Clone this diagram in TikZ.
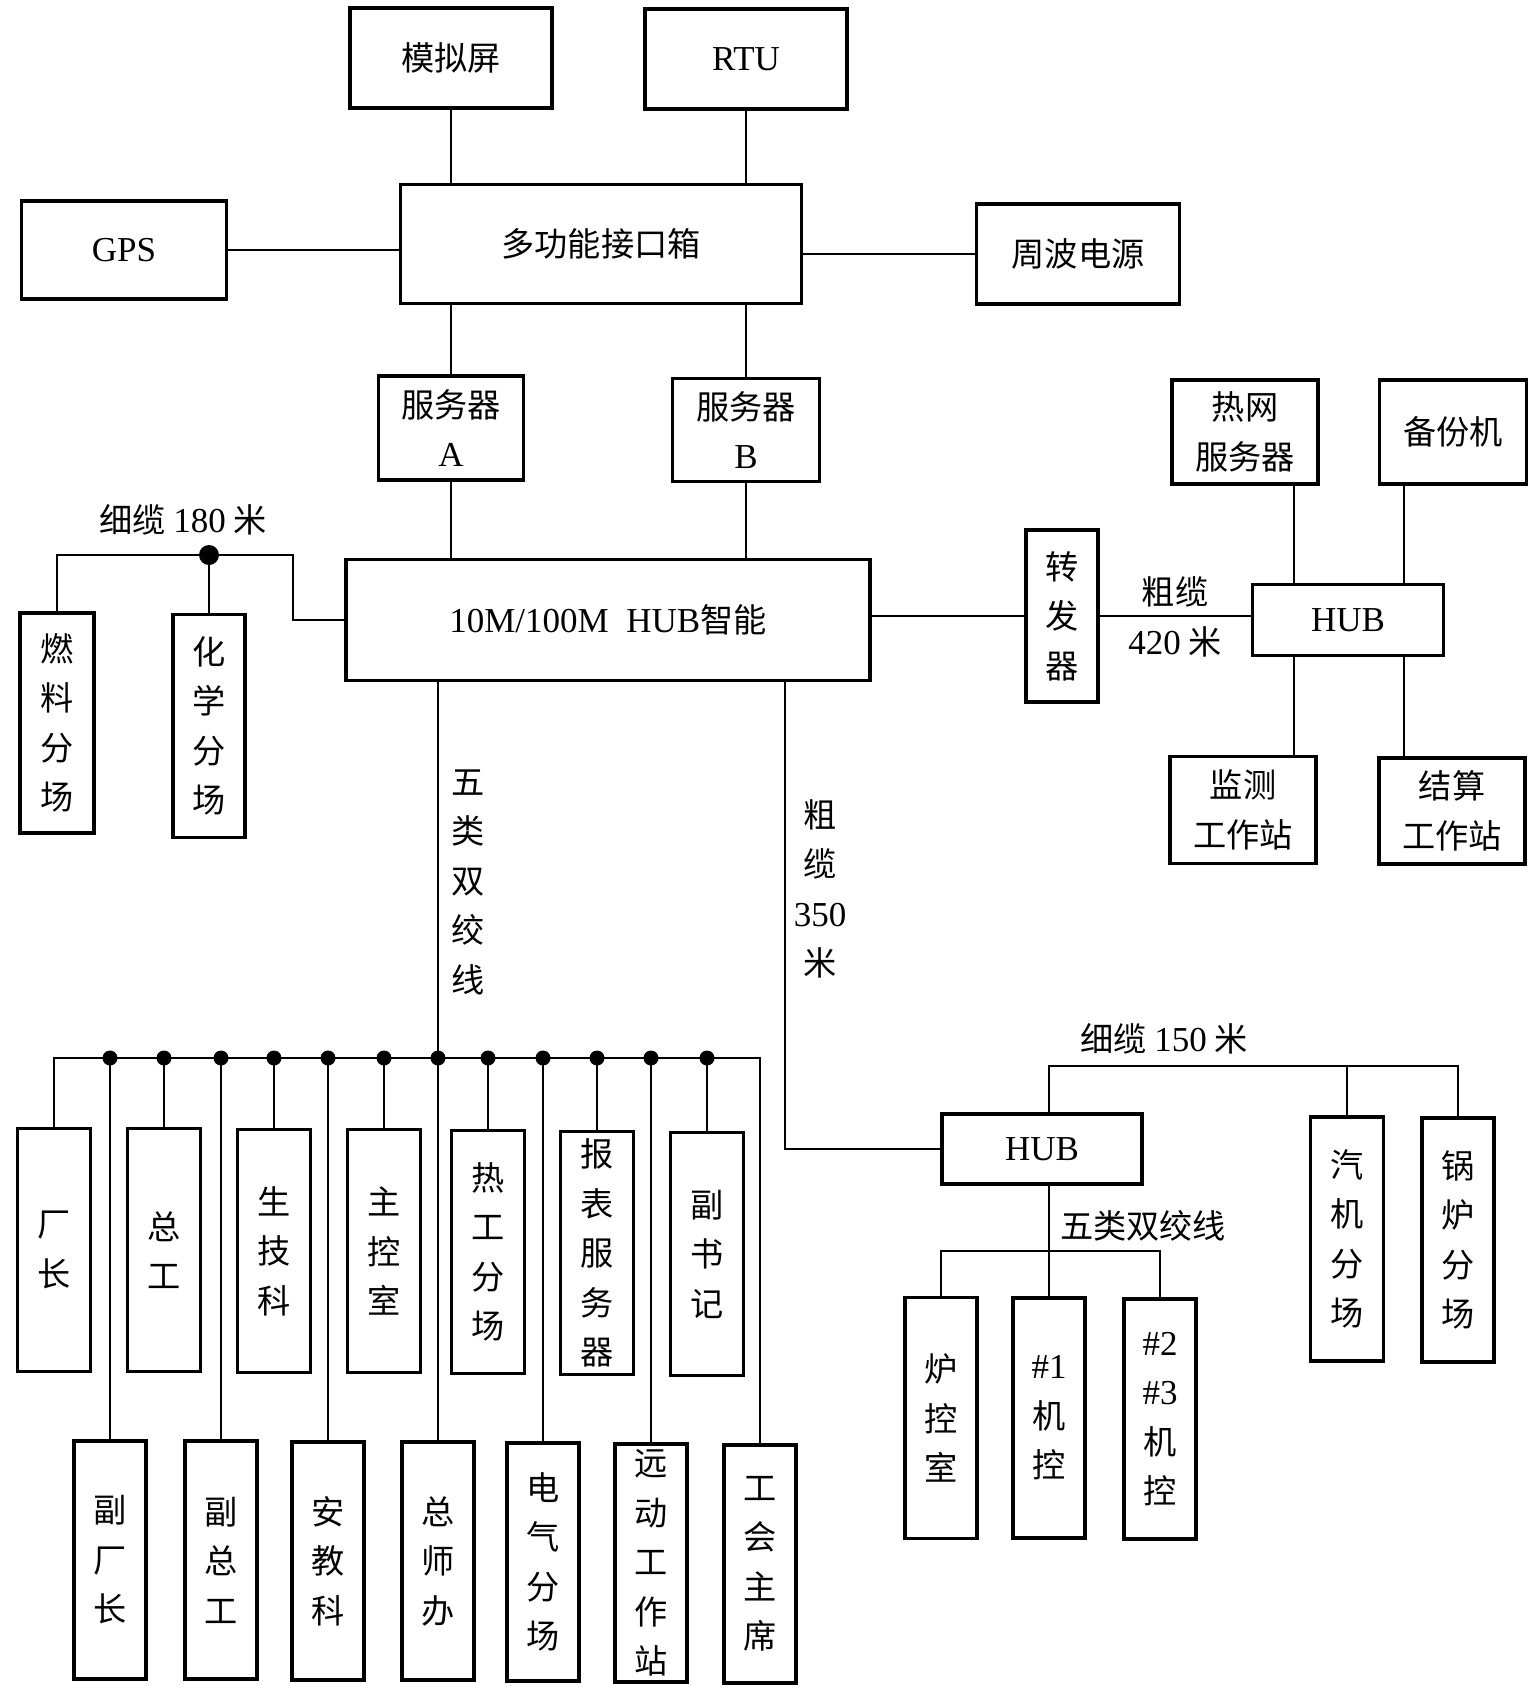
\documentclass[tikz,border=0pt]{standalone}
\usepackage{fontspec}
\setmainfont{Liberation Serif}
\newfontfamily\cjk{Noto Sans CJK SC}
\usetikzlibrary{calc}
\newcommand\lat[1]{{\rmfamily\fontsize{17.5}{24.75}\selectfont #1}}
\tikzset{
  box/.style   = {draw, line width=1.9pt, inner sep=0pt, align=center,
                  font=\cjk\fontsize{16.6}{24.75}\selectfont},
  sz/.style 2 args = {minimum width=#1*0.5pt, minimum height=#2*0.5pt},
  upbox/.style = {box, sz={73}{243}},
  lowbox/.style= {box, sz={72}{238}},
  wire/.style  = {line width=1.4pt},
  dot/.style   = {circle, fill=black, inner sep=0pt, minimum size=7.5pt},
  lbl/.style   = {inner sep=0pt, align=center, font=\cjk\fontsize{16.6}{24.75}\selectfont},
}

\begin{document}
\begin{tikzpicture}[x=0.5pt,y=-0.5pt]
  \useasboundingbox (0,0) rectangle (1535,1687);
  % top part
  \node[box, sz={202}{100}] (mnp) at (451,58) {模拟屏};
  \node[box, sz={202}{100}] (rtu) at (746,59) {\lat{RTU}};
  \node[box, sz={205}{98}] (gps) at (124,250) {\lat{GPS}};
  \node[box, sz={401}{119}] (jkx) at (601,244) {多功能接口箱};
  \node[box, sz={203}{100}] (zbdy) at (1078,254) {周波电源};
  \draw[wire] (mnp) -- (mnp |- jkx.north);
  \draw[wire] (rtu) -- (rtu |- jkx.north);
  \draw[wire] (gps) -- (gps -| jkx.west);
  \draw[wire] (zbdy) -- (zbdy -| jkx.east);
  \node[box, sz={145}{104}] (srvA) at (451,428) {服务器\\\lat{A}};
  \node[box, sz={147}{103}] (srvB) at (746,430) {服务器\\\lat{B}};
  \draw[wire] (srvA) -- (srvA |- jkx.south);
  \draw[wire] (srvB) -- (srvB |- jkx.south);
  \node[box, sz={524}{121}] (hub) at (608,620) {\lat{10M/100M\ \ HUB}智能};
  \draw[wire] (srvA) -- (srvA |- hub.north);
  \draw[wire] (srvB) -- (srvB |- hub.north);

  % thin cable, left
  \node[box, sz={74}{220}] (rlfc) at (57,723) {燃\\料\\分\\场};
  \node[box, sz={72}{223}] (hxfc) at (209,726) {化\\学\\分\\场};
  \node[dot, minimum size=10pt] (j180) at (209,555) {};
  \coordinate (k180) at (293,555);
  \draw[wire] (rlfc) |- (j180) -- (k180) |- (hub.west);
  \draw[wire] (hxfc) -- (j180);
  \node[lbl] (l180) at (183,520) {细缆 \lat{180} 米};

  % offices
  \coordinate (bus) at (0,1058);
  \node[upbox] (cz)   at (54,1250)  {厂\\长};
  \node[upbox] (zg)   at (164,1250) {总\\工};
  \node[upbox] (sjk)  at (274,1251) {生\\技\\科};
  \node[upbox] (zks)  at (384,1251) {主\\控\\室};
  \node[upbox] (rgfc) at (488,1252) {热\\工\\分\\场};
  \node[upbox] (bbfw) at (597,1253) {报\\表\\服\\务\\器};
  \node[upbox] (fsj)  at (707,1254) {副\\书\\记};
  \node[lowbox] (fcz)  at (110,1560) {副\\厂\\长};
  \node[lowbox] (fzg)  at (221,1560) {副\\总\\工};
  \node[lowbox] (ajk)  at (328,1561) {安\\教\\科};
  \node[lowbox] (zsb)  at (438,1561) {总\\师\\办};
  \node[lowbox] (dqfc) at (543,1562) {电\\气\\分\\场};
  \node[lowbox] (ydgz) at (651,1563) {远\\动\\工\\作\\站};
  \node[lowbox] (ghzx) at (760,1564) {工\\会\\主\\席};
  \draw[wire] (cz) |- (bus -| ghzx) -- (ghzx);
  \foreach \n in {fcz,zg,fzg,sjk,ajk,zks,rgfc,dqfc,bbfw,ydgz,fsj}
    \draw[wire] (\n) -- (\n |- bus) node[dot] (d\n) {};
  \draw[wire] (zsb) -- (zsb |- hub.south);
  \node[dot] (dzsb) at (zsb |- bus) {};
  \node[lbl] (l5a) at (468,882) {五\\类\\双\\绞\\线};

  % thick cable 350
  \coordinate (c350) at (785,0);
  \node[box, sz={200}{70}] (hub2) at (1042,1149) {\lat{HUB}};
  \draw[wire] (c350 |- hub.south) |- (hub2);
  \node[lbl] (l350) at (820,889) {粗\\缆\\\lat{350}\\米};

  % right part
  \node[box, sz={72}{172}] (zfq) at (1062,616) {转\\发\\器};
  \draw[wire] (zfq) -- (zfq -| hub.east);
  \node[box, sz={191}{71}] (hubr) at (1348,620) {\lat{HUB}};
  \draw[wire] (zfq) -- (zfq -| hubr.west);
  \node[lbl] (l420) at (1175,617) {粗缆\\\lat{420} 米};
  \node[box, sz={146}{104}] (rwfw) at (1245,432) {热网\\服务器};
  \node[box, sz={147}{104}] (bfj)  at (1453,432) {备份机};
  \node[box, sz={146}{107}] (jcgz) at (1243,810) {监测\\工作站};
  \node[box, sz={146}{106}] (jsgz) at (1452,811) {结算\\工作站};
  \coordinate (hl) at (1294,0);
  \coordinate (hr) at (1404,0);
  \draw[wire] (hl |- rwfw.south) -- (hl |- hubr.north);
  \draw[wire] (hr |- bfj.south) -- (hr |- hubr.north);
  \draw[wire] (hl |- hubr.south) -- (hl |- jcgz.north);
  \draw[wire] (hr |- hubr.south) -- (hr |- jsgz.north);

  % lower right
  \coordinate (h2x) at (1049,0);
  \coordinate (b150) at (0,1066);
  \node[upbox, sz={73}{244}] (qjfc) at (1347,1239) {汽\\机\\分\\场};
  \node[upbox, sz={72}{244}] (glfc) at (1458,1240) {锅\\炉\\分\\场};
  \draw[wire] (h2x |- hub2.north) |- (b150 -| glfc) -- (glfc);
  \draw[wire] (qjfc) -- (qjfc |- b150);
  \node[lbl] (l150) at (1164,1039) {细缆 \lat{150} 米};
  \coordinate (b5b) at (0,1251);
  \node[box, sz={72}{241}] (lkss) at (941,1418)  {炉\\控\\室};
  \node[box, sz={72}{240}] (jk1)  at (1049,1418) {\lat{\#1}\\机\\控};
  \node[box, sz={72}{240}] (jk23) at (1160,1419) {\lat{\#2}\\\lat{\#3}\\机\\控};
  \draw[wire] (lkss) |- (b5b -| jk23) -- (jk23);
  \draw[wire] (h2x |- hub2.south) -- (jk1);
  \node[lbl] (l5b) at (1143,1226) {五类双绞线};
\end{tikzpicture}
\end{document}
